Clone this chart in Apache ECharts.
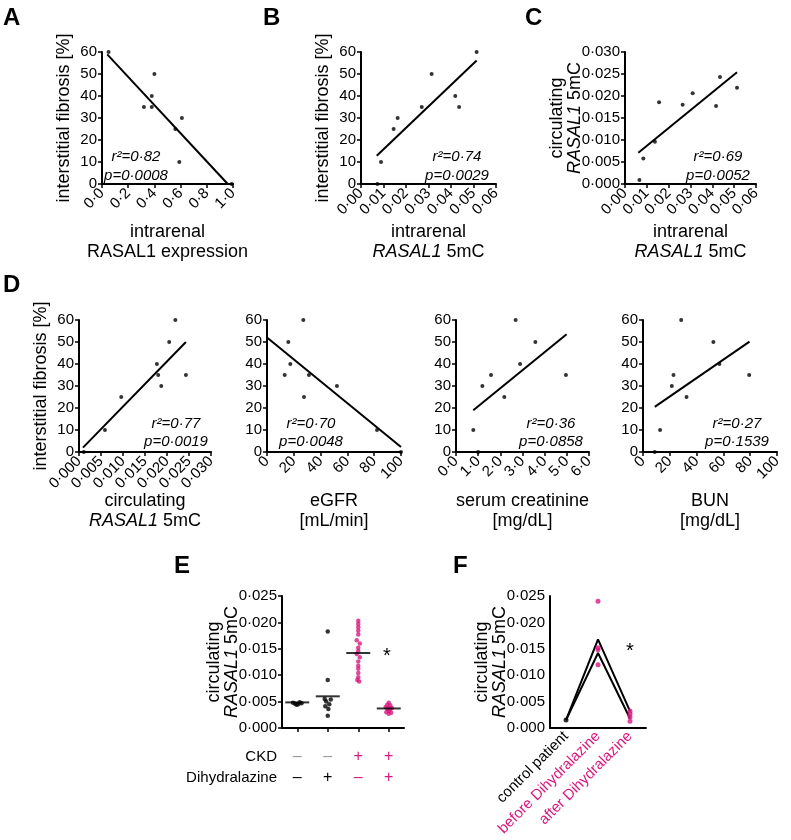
<!DOCTYPE html>
<html>
<head>
<meta charset="utf-8">
<script src="https://cdn.jsdelivr.net/npm/echarts@6/dist/echarts.min.js"></script>
<style>
html, body { margin: 0; padding: 0; background: #fff; }
#chart { width: 791px; height: 840px; }
</style>
</head>
<body>
<div id="chart"></div>
<script>
// A: intrarenal RASAL1 expression vs interstitial fibrosis
const ptsA = [[0.05, 60], [0.40, 50], [0.38, 40], [0.32, 35], [0.38, 35], [0.61, 30], [0.56, 25], [0.59, 10], [0.99, 0]];
const fitA = [[0.04, 58.9], [0.96, 0]];
// B: intrarenal 5mC vs fibrosis
const ptsB = [[0.0073, 0], [0.0089, 10], [0.0145, 25], [0.0163, 30], [0.027, 35], [0.0314, 50], [0.0419, 40], [0.0436, 35], [0.0514, 60]];
const fitB = [[0.0070, 12.8], [0.0514, 56.1]];
// C: intrarenal 5mC vs circulating 5mC
const ptsC = [[0.0066, 0.0009], [0.0084, 0.0058], [0.0137, 0.0096], [0.0156, 0.0186], [0.0264, 0.0180], [0.0310, 0.0206], [0.0417, 0.0177], [0.0435, 0.0243], [0.0513, 0.0219]];
const fitC = [[0.0061, 0.0071], [0.0513, 0.0254]];
// D: fibrosis vs circulating 5mC, eGFR, creatinine, BUN
const ptsD1 = [[0.0011, 0], [0.0059, 10], [0.0096, 25], [0.0177, 40], [0.0180, 35], [0.0187, 30], [0.0205, 50], [0.0219, 60], [0.0243, 35]];
const fitD1 = [[0.0009, 2.0], [0.0243, 50]];
const ptsD2 = [[27.1, 60], [15.9, 50], [17.4, 40], [13.2, 35], [31.3, 35], [52.2, 30], [27.6, 25], [82.1, 10], [100, 0]];
const fitD2 = [[0, 52], [100, 2.3]];
const ptsD3 = [[0.78, 10], [1.19, 30], [1.58, 35], [2.18, 25], [2.69, 60], [2.89, 40], [3.58, 50], [4.96, 35], [1.0, 0]];
const fitD3 = [[0.78, 19], [4.99, 53.5]];
const ptsD4 = [[8.75, 0], [12.75, 10], [21.5, 30], [22.75, 35], [28.5, 60], [32.5, 25], [52.5, 50], [57, 40], [79.25, 35]];
const fitD4 = [[8.75, 20.5], [79.5, 50.2]];

const stats = [
  ['r²=0·82', 'p=0·0008'], ['r²=0·74', 'p=0·0029'], ['r²=0·69', 'p=0·0052'],
  ['r²=0·77', 'p=0·0019'], ['r²=0·70', 'p=0·0048'], ['r²=0·36', 'p=0·0858'], ['r²=0·27', 'p=0·1539']
];

// E: groups (x position 0.5..3.5, jitter)
const grpE1 = [[0.36, 0.0048], [0.43, 0.0046], [0.48, 0.0044], [0.53, 0.0045], [0.58, 0.0049], [0.64, 0.0047]];
const grpE2 = [[1.5, 0.0183], [1.5, 0.0091], [1.4, 0.0055], [1.6, 0.0054], [1.45, 0.0050], [1.55, 0.0045], [1.42, 0.0041], [1.52, 0.0036], [1.5, 0.0023]];
const grpE3 = [[2.5, 0.0203], [2.5, 0.0197], [2.5, 0.0191], [2.5, 0.0184], [2.5, 0.0177], [2.45, 0.0166], [2.55, 0.0160], [2.5, 0.0152],
  [2.5, 0.0146], [2.45, 0.0140], [2.55, 0.0134], [2.5, 0.0126], [2.5, 0.0118], [2.5, 0.0112], [2.5, 0.0104], [2.5, 0.0096], [2.47, 0.0091], [2.53, 0.0088]];
const grpE4 = [[3.5, 0.0048], [3.45, 0.0044], [3.55, 0.0043], [3.4, 0.0040], [3.5, 0.0039], [3.6, 0.0038], [3.45, 0.0036], [3.55, 0.0035],
  [3.5, 0.0032], [3.42, 0.0030], [3.58, 0.0029], [3.5, 0.0027]];
const meanE = [[0.5, 0.00485], [1.5, 0.0060], [2.5, 0.0142], [3.5, 0.0037]];
const ckdRow = ['–', '–', '+', '+'];
const dihRow = ['–', '+', '–', '+'];
const ckdStyle = ['g', 'g', 'm', 'm'];
const dihStyle = ['k', 'k', 'm', 'm'];

// F: paired patients
const catsF = ['control patient', 'before Dihydralazine', 'after Dihydralazine'];
const ctrlF = [[0, 0.0015]];
const txF = [[1, 0.0240], [1, 0.0152], [1, 0.0148], [1, 0.0120], [2, 0.0032], [2, 0.0027], [2, 0.0021], [2, 0.0013]];
const lineF1 = [0.0015, 0.0168, 0.0032];
const lineF2 = [0.0015, 0.0142, 0.0018];

const FONT = '"Liberation Sans", Arial, Helvetica, sans-serif';
const MAG = '#d8197f';
const fmt = d => v => v.toFixed(d).replace('.', '·');

const grids = [
  [102, 52, 131], [361, 52, 135], [625, 52, 131],
  [79, 320, 132], [267, 320, 134], [456, 320, 133], [643, 320, 134],
  [282, 596, 122], [550, 596, 96]
].map(g => ({ left: g[0], top: g[1], width: g[2], height: 132, outerBoundsMode: 'none' }));

const lineSt = { color: '#000', width: 2 };
const tickSt = { length: 4, lineStyle: { color: '#000', width: 1.5 } };
function nameSt(lh) {
  return {
    fontSize: 18, lineHeight: lh, color: '#000', fontFamily: FONT,
    rich: { i: { fontStyle: 'italic', fontSize: 18, lineHeight: lh, color: '#000', fontFamily: FONT } }
  };
}

function xAx(gi, max, step, dec, name, gap) {
  return {
    type: 'value', gridIndex: gi, min: 0, max: max, interval: step,
    axisLine: { onZero: false, lineStyle: lineSt }, axisTick: tickSt, splitLine: { show: false },
    axisLabel: { rotate: 45, fontSize: 15, color: '#000', margin: 7, formatter: fmt(dec), showMinLabel: true, showMaxLabel: true },
    name: name, nameLocation: 'middle', nameGap: gap, nameMoveOverlap: false, nameTextStyle: nameSt(20)
  };
}
function yAx(gi, max, step, dec, name, gap) {
  return {
    type: 'value', gridIndex: gi, min: 0, max: max, interval: step,
    axisLine: { show: true, onZero: false, lineStyle: lineSt }, axisTick: tickSt, splitLine: { show: false },
    axisLabel: { fontSize: 15, color: '#000', margin: 5, formatter: fmt(dec), showMinLabel: true, showMaxLabel: true },
    name: name, nameLocation: 'middle', nameRotate: 90, nameGap: gap, nameMoveOverlap: false, nameTextStyle: nameSt(18)
  };
}

const FIB = 'interstitial fibrosis [%]';
const CIRC = 'circulating\n{i|RASAL1} 5mC';
const xAxes = [
  xAx(0, 1, 0.2, 1, 'intrarenal\nRASAL1 expression', 38),
  xAx(1, 0.06, 0.01, 2, 'intrarenal\n{i|RASAL1} 5mC', 38),
  xAx(2, 0.06, 0.01, 2, 'intrarenal\n{i|RASAL1} 5mC', 38),
  xAx(3, 0.03, 0.005, 3, 'circulating\n{i|RASAL1} 5mC', 39),
  xAx(4, 100, 20, 0, 'eGFR\n[mL/min]', 39),
  xAx(5, 6, 1, 1, 'serum creatinine\n[mg/dL]', 39),
  xAx(6, 100, 20, 0, 'BUN\n[mg/dL]', 39),
  {
    type: 'value', gridIndex: 7, min: 0, max: 4,
    axisLine: { onZero: false, lineStyle: lineSt }, splitLine: { show: false },
    axisTick: { length: 4, lineStyle: { color: '#000', width: 1.5 }, customValues: meanE.map(m => m[0]) },
    axisLabel: {
      customValues: meanE.map(m => m[0]), margin: 18,
      formatter: v => { const i = Math.floor(v); return '{' + ckdStyle[i] + '|' + ckdRow[i] + '}\n{' + dihStyle[i] + '|' + dihRow[i] + '}'; },
      rich: {
        g: { color: '#999', fontSize: 16, lineHeight: 21, fontFamily: FONT },
        k: { color: '#000', fontSize: 16, lineHeight: 21, fontFamily: FONT },
        m: { color: MAG, fontSize: 16, lineHeight: 21, fontFamily: FONT }
      }
    }
  },
  {
    type: 'category', gridIndex: 8, data: catsF,
    axisLine: { lineStyle: lineSt }, axisTick: { alignWithLabel: true, length: 4, lineStyle: { color: '#000', width: 1.5 } },
    axisLabel: { rotate: 45, interval: 0, fontSize: 15, margin: 6, color: (v, i) => (i === 0 ? '#000' : MAG) }
  }
];
const yAxes = [
  yAx(0, 60, 10, 0, FIB, 29), yAx(1, 60, 10, 0, FIB, 29), yAx(2, 0.03, 0.005, 3, CIRC, 41),
  yAx(3, 60, 10, 0, FIB, 29), yAx(4, 60, 10, 0, ''), yAx(5, 60, 10, 0, ''), yAx(6, 60, 10, 0, ''),
  yAx(7, 0.025, 0.005, 3, CIRC, 41), yAx(8, 0.025, 0.005, 3, CIRC, 41)
];

function dots(i, data, color, size) {
  return { type: 'scatter', xAxisIndex: i, yAxisIndex: i, data: data, symbolSize: size || 4, itemStyle: { color: color || '#000' }, silent: true, z: 3 };
}
function fit(i, data) {
  return { type: 'line', xAxisIndex: i, yAxisIndex: i, data: data, symbol: 'none', lineStyle: { color: '#000', width: 2 }, silent: true };
}

const series = [
  dots(0, ptsA), fit(0, fitA), dots(1, ptsB), fit(1, fitB), dots(2, ptsC), fit(2, fitC),
  dots(3, ptsD1), fit(3, fitD1), dots(4, ptsD2), fit(4, fitD2), dots(5, ptsD3), fit(5, fitD3), dots(6, ptsD4), fit(6, fitD4),
  dots(7, grpE1.concat(grpE2), '#000', 4.5), dots(7, grpE3.concat(grpE4), MAG, 4.5),
  { type: 'scatter', xAxisIndex: 7, yAxisIndex: 7, data: meanE, symbol: 'rect', symbolSize: [24, 2], itemStyle: { color: '#000' }, z: 4, silent: true },
  { type: 'line', xAxisIndex: 8, yAxisIndex: 8, data: lineF1, symbol: 'none', lineStyle: { color: '#000', width: 2 } },
  { type: 'line', xAxisIndex: 8, yAxisIndex: 8, data: lineF2, symbol: 'none', lineStyle: { color: '#000', width: 2 } },
  dots(8, ctrlF, '#000', 5), dots(8, txF, MAG, 5)
];

// stat labels, centres
const statPos = [[136, 157, 176], [457, 157, 176], [718, 157, 176], [176, 424, 442], [311, 424, 442], [551, 424, 442], [737, 424, 442]];
const graphic = [];
stats.forEach((s, k) => {
  const p = statPos[k];
  [s[0], s[1]].forEach((t, j) => graphic.push({
    type: 'text', x: p[0], y: p[1 + j],
    style: { text: t, fontSize: 15, fontStyle: 'italic', fontFamily: FONT, fill: '#000', align: 'center', verticalAlign: 'middle' }
  }));
});
[['A', 3, 18], ['B', 263, 18], ['C', 525, 18], ['D', 3, 285], ['E', 174, 566], ['F', 453, 566]].forEach(l => graphic.push({
  type: 'text', x: l[1], y: l[2],
  style: { text: l[0], fontSize: 24, fontWeight: 'bold', fontFamily: FONT, fill: '#000', verticalAlign: 'middle' }
}));
[['CKD', 757], ['Dihydralazine', 778]].forEach(r => graphic.push({
  type: 'text', x: 277, y: r[1],
  style: { text: r[0], fontSize: 15, fontFamily: FONT, fill: '#000', align: 'right', verticalAlign: 'middle' }
}));
[[387, 656], [630, 651]].forEach(s => graphic.push({
  type: 'text', x: s[0], y: s[1],
  style: { text: '*', fontSize: 20, fontFamily: FONT, fill: '#000', align: 'center', verticalAlign: 'middle' }
}));

const chart = echarts.init(document.getElementById('chart'));
chart.setOption({
  animation: false,
  backgroundColor: '#fff',
  textStyle: { fontFamily: FONT },
  grid: grids,
  xAxis: xAxes,
  yAxis: yAxes,
  series: series,
  graphic: graphic
});
</script>
</body>
</html>
